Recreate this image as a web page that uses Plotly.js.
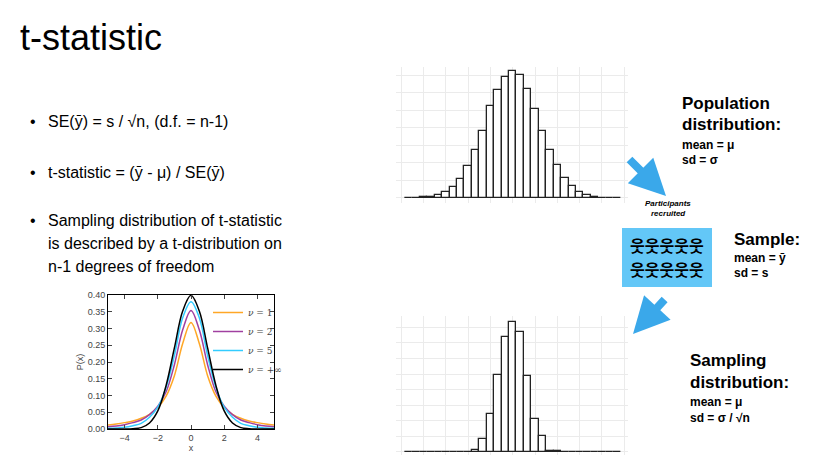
<!DOCTYPE html>
<html><head><meta charset="utf-8">
<script src="https://cdn.plot.ly/plotly-3.0.1.min.js"></script>
<style>body{margin:0;background:#fff}#chart{width:823px;height:466px}</style>
</head><body><div id="chart"></div>
<script>
// bins in bar units, heights relative to the tallest bar
let popBins = [-14,-13,-12,-11,-10,-9,-8,-7,-6,-5,-4,-3,-2,-1,0,1,2,3,4,5,6,7,8,9,10,11,12,13,14];
let popHeights = [0.0005,0.001,0.004,0.01,0.02,0.045,0.087,0.15,0.25,0.38,0.53,0.72,0.85,0.95,1.0,0.97,0.86,0.70,0.53,0.38,0.26,0.16,0.09,0.05,0.025,0.008,0.003,0.001,0.0005];
let sampHeights = [0,0,0,0,0,0,0,0,0,0.01,0.10,0.29,0.59,0.88,1.0,0.92,0.58,0.25,0.12,0.008,0.005,0,0,0,0,0,0,0,0];

// t-distribution curves
let tx = [-5,-4.5,-4,-3.5,-3,-2.5,-2,-1.5,-1,-0.5,0,0.5,1,1.5,2,2.5,3,3.5,4,4.5,5];
let nu1 = [0.012,0.015,0.019,0.024,0.032,0.044,0.064,0.098,0.159,0.255,0.318,0.255,0.159,0.098,0.064,0.044,0.032,0.024,0.019,0.015,0.012];
let nu2 = [0.007,0.009,0.013,0.019,0.027,0.043,0.068,0.111,0.192,0.296,0.354,0.296,0.192,0.111,0.068,0.043,0.027,0.019,0.013,0.009,0.007];
let nu5 = [0.002,0.003,0.005,0.010,0.017,0.035,0.065,0.124,0.220,0.332,0.380,0.332,0.220,0.124,0.065,0.035,0.017,0.010,0.005,0.003,0.002];
let nuInf = [0,0,0.0001,0.001,0.004,0.018,0.054,0.130,0.242,0.352,0.399,0.352,0.242,0.130,0.054,0.018,0.004,0.001,0.0001,0,0];
let nuNames = ['<i>ν</i> = 1','<i>ν</i> = 2','<i>ν</i> = 5','<i>ν</i> = +∞'];
let nuColors = ['#ffa726','#a040a0','#33ccff','#000000'];

let W = 823, H = 466;
let px = v => v / W;
let py = v => 1 - v / H;
let font = 'Liberation Sans, Arial, sans-serif';

let bar = (y, xa, ya) => ({
    type: 'bar', x: popBins, y: y, xaxis: xa, yaxis: ya, width: 1,
    marker: {color: '#fff', line: {color: '#222', width: 1.3}},
    showlegend: false, hoverinfo: 'skip'
});

let data = [bar(popHeights, 'x', 'y'), bar(sampHeights, 'x2', 'y2')];
[nu1, nu2, nu5, nuInf].forEach((v, i) => {
    data.push({type: 'scatter', mode: 'lines', x: tx, y: v, xaxis: 'x3', yaxis: 'y3',
        name: nuNames[i], line: {color: nuColors[i], width: 1.5, shape: 'spline'}});
});

let histX = (anchor) => ({domain: [px(396), px(628)], anchor: anchor, range: [-15.7, 15.5], dtick: 3, tick0: 0,
    showticklabels: false, gridcolor: '#ebebeb', zeroline: false, ticks: ''});

let txt = (x, y, text, size, opts) => Object.assign({xref: 'paper', yref: 'paper', x: px(x), y: py(y),
    text: text, showarrow: false, xanchor: 'left', yanchor: 'middle',
    font: {family: font, size: size, color: '#000'}}, opts || {});

let people = {family: 'Noto Sans CJK KR', size: 16, color: '#000'};

let annotations = [
    txt(18, 38, 't-statistic', 36),
    txt(28, 122, '•', 16), txt(46, 122, 'SE(ȳ) = s / √n, (d.f. = n-1)', 16),
    txt(28, 172, '•', 16), txt(46, 172, 't-statistic = (ȳ - μ) / SE(ȳ)', 16),
    txt(28, 220, '•', 16), txt(46, 220, 'Sampling distribution of t-statistic', 16),
    txt(46, 243, 'is described by a t-distribution on', 16),
    txt(46, 266, 'n-1 degrees of freedom', 16),
    txt(680, 103, '<b>Population</b>', 17), txt(680, 125, '<b>distribution:</b>', 17),
    txt(680, 145, '<b>mean = μ</b>', 12), txt(680, 160, '<b>sd = σ</b>', 12),
    txt(668, 204, '<b><i>Participants</i></b>', 8, {xanchor: 'center'}),
    txt(668, 214, '<b><i>recruited</i></b>', 8, {xanchor: 'center'}),
    txt(732, 239, '<b>Sample:</b>', 17), txt(732, 258, '<b>mean = ȳ</b>', 12), txt(732, 273, '<b>sd = s</b>', 12),
    txt(688, 360, '<b>Sampling</b>', 17), txt(688, 382, '<b>distribution:</b>', 17),
    txt(688, 402, '<b>mean = μ</b>', 12), txt(688, 418, '<b>sd = σ / √n</b>', 12),
    txt(667, 245, '<b>웃웃웃웃웃</b>', 16, {xanchor: 'center', font: people}),
    txt(667, 269, '<b>웃웃웃웃웃</b>', 16, {xanchor: 'center', font: people}),
    {xref: 'paper', yref: 'paper', x: px(666), y: py(196), ax: px(628), ay: py(158), axref: 'paper', ayref: 'paper',
        text: '', showarrow: true, arrowhead: 2, arrowsize: 0.9, arrowwidth: 8, arrowcolor: '#3aa8ea'},
    {xref: 'paper', yref: 'paper', x: px(633), y: py(334), ax: px(666), ay: py(298), axref: 'paper', ayref: 'paper',
        text: '', showarrow: true, arrowhead: 2, arrowsize: 0.9, arrowwidth: 8, arrowcolor: '#3aa8ea'}
];

let layout = {
    width: W, height: H, margin: {l: 0, r: 0, t: 0, b: 0},
    paper_bgcolor: '#fff', plot_bgcolor: 'rgba(0,0,0,0)', bargap: 0,
    font: {family: font},
    xaxis: histX('y'),
    yaxis: {domain: [py(203), py(67)], anchor: 'x', range: [-0.04, 1.03], dtick: 0.1376, tick0: 0,
        showticklabels: false, gridcolor: '#ebebeb', zeroline: false},
    xaxis2: histX('y2'),
    yaxis2: {domain: [py(455), py(316)], anchor: 'x2', range: [-0.026, 1.044], dtick: 0.1195, tick0: 0,
        showticklabels: false, gridcolor: '#ebebeb', zeroline: false},
    xaxis3: {domain: [px(108), px(274)], anchor: 'y3', range: [-5, 5], dtick: 2, ticks: 'inside', ticklen: 4,
        showline: true, mirror: 'ticks', linecolor: '#000', linewidth: 1, showgrid: false, zeroline: false,
        tickfont: {size: 9}, title: {text: 'x', font: {size: 9}, standoff: 0}},
    yaxis3: {domain: [py(429), py(295)], anchor: 'x3', range: [0, 0.4], dtick: 0.05, tickformat: '.2f', ticks: 'inside', ticklen: 4,
        showline: true, mirror: 'ticks', linecolor: '#000', linewidth: 1, showgrid: false, zeroline: false,
        tickfont: {size: 9}, title: {text: 'P(x)', font: {size: 9}, standoff: 2}},
    legend: {x: px(208), y: py(298), xanchor: 'left', yanchor: 'top', bgcolor: 'rgba(0,0,0,0)',
        font: {size: 9, family: 'DejaVu Serif'}, tracegroupgap: 0, itemwidth: 20},
    shapes: [{type: 'rect', xref: 'paper', yref: 'paper', x0: px(622), x1: px(712), y0: py(287), y1: py(228),
        fillcolor: '#63c7f7', line: {width: 0}, layer: 'below'}],
    annotations: annotations
};

Plotly.newPlot('chart', data, layout, {displayModeBar: false});
</script></body></html>
